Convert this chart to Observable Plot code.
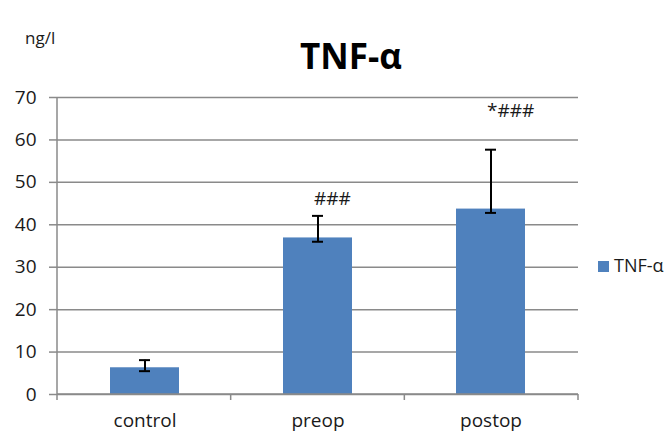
<!DOCTYPE html>
<html>
<head>
<meta charset="utf-8">
<script src="https://cdn.jsdelivr.net/npm/d3@7"></script>
<script src="https://cdn.jsdelivr.net/npm/@observablehq/plot@0.6"></script>
<style>
  body { margin: 0; background: #fff; }
  #chart { width: 670px; height: 433px; }
  #chart svg { font-family: "Open Sans", sans-serif; }
</style>
</head>
<body>
<div id="chart"></div>
<script>
// ---- data ----
const categories = ["control", "preop", "postop"];
const means      = [6.3, 36.9, 43.7];
const errLow     = [5.5, 36.0, 42.8];
const errHigh    = [8.1, 42.1, 57.7];
const notes      = ["", "###", "*###"];
const noteY      = [null, 46.2, 66.9];
const yTicks     = [0, 10, 20, 30, 40, 50, 60, 70];
const seriesName = "TNF-α";
const unitLabel  = "ng/l";

const table = categories.map((c, i) => ({
  cat: c, mean: means[i], lo: errLow[i], hi: errHigh[i], note: notes[i], noteY: noteY[i]
}));

const gridColor = "#8a8a8a";
const barColor = "#4f81bd";
const W = 670, H = 433;
const mL = 57, mR = 92, mT = 97, mB = 39;

// custom mark: axis lines and category boundary ticks
function axisLines(index, scales, values, dims) {
  const y = scales.y;
  const x0 = dims.marginLeft, x1 = dims.width - dims.marginRight;
  const yb = y(0);
  const g = d3.create("svg:g")
    .attr("stroke", gridColor)
    .attr("stroke-width", 1.5)
    .attr("fill", "none");
  g.append("line").attr("x1", x0).attr("x2", x0).attr("y1", y(70)).attr("y2", yb + 6);
  g.append("line").attr("x1", x0).attr("x2", x1).attr("y1", yb).attr("y2", yb);
  const n = categories.length;
  for (let i = 1; i <= n; i++) {
    const bx = x0 + i * (x1 - x0) / n;
    g.append("line").attr("x1", bx).attr("x2", bx).attr("y1", yb).attr("y2", yb + 6);
  }
  return g.node();
}

const plot = Plot.plot({
  width: W,
  height: H,
  marginLeft: mL,
  marginRight: mR,
  marginTop: mT,
  marginBottom: mB,
  style: { fontFamily: "Open Sans, sans-serif", fontSize: "19px", color: "#1a1a1a", background: "#fff" },
  x: { domain: categories, paddingInner: 0.6, paddingOuter: 0.3, label: null },
  y: { domain: [0, 70], label: null },
  marks: [
    Plot.gridY(yTicks, { stroke: gridColor, strokeOpacity: 1, strokeWidth: 1.5 }),
    Plot.axisY({ ticks: yTicks, tickSize: 8, tickPadding: 13, stroke: gridColor, strokeWidth: 1.5, fill: "#1a1a1a", fontSize: 19, label: null }),
    Plot.axisX({ tickSize: 0, tickPadding: 19, fill: "#1a1a1a", fontSize: 19, label: null }),
    Plot.barY(table, { x: "cat", y: "mean", fill: barColor }),
    axisLines,
    Plot.ruleX(table, { x: "cat", y1: "lo", y2: "hi", stroke: "#000", strokeWidth: 2 }),
    Plot.tickY(table, { x: "cat", y: "lo", stroke: "#000", strokeWidth: 2, insetLeft: 29, insetRight: 29 }),
    Plot.tickY(table, { x: "cat", y: "hi", stroke: "#000", strokeWidth: 2, insetLeft: 29, insetRight: 29 }),
    Plot.text(table.filter(d => d.note), { x: "cat", y: "noteY", text: "note", textAnchor: "start", dx: -4, fontSize: 19, fill: "#1a1a1a" })
  ]
});

const svg = d3.select(plot);
// title
svg.append("text")
  .attr("x", 351).attr("y", 69)
  .attr("text-anchor", "middle")
  .attr("font-family", "Open Sans, sans-serif")
  .attr("font-weight", "bold")
  .attr("font-size", 35)
  .attr("fill", "#000")
  .text(seriesName);
// unit label
svg.append("text")
  .attr("x", 25).attr("y", 44)
  .attr("text-anchor", "start")
  .attr("font-family", "Open Sans, sans-serif")
  .attr("font-size", 17)
  .attr("fill", "#1a1a1a")
  .text(unitLabel);
// legend
svg.append("rect")
  .attr("x", 598).attr("y", 261).attr("width", 11).attr("height", 11)
  .attr("fill", barColor);
svg.append("text")
  .attr("x", 614).attr("y", 272)
  .attr("text-anchor", "start")
  .attr("font-family", "Open Sans, sans-serif")
  .attr("font-size", 18)
  .attr("fill", "#1a1a1a")
  .text(seriesName);

document.getElementById("chart").appendChild(plot);
</script>
</body>
</html>
